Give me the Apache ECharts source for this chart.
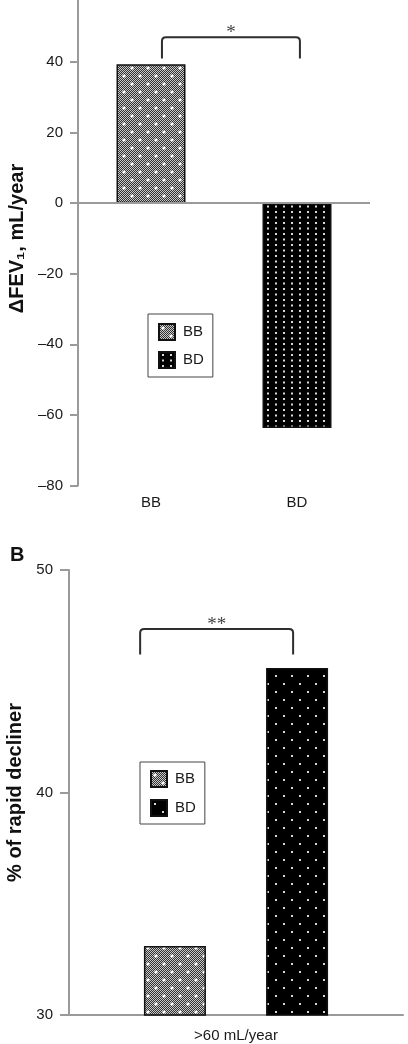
<!DOCTYPE html>
<html><head><meta charset="utf-8">
<script src="https://cdn.jsdelivr.net/npm/echarts@6/dist/echarts.min.js"></script>
<style>html,body{margin:0;padding:0;background:#fff}#c{width:408px;height:1044px}</style>
</head><body><div id="c"></div>
<script>
// ---- data ----
const groupsA = ['BB', 'BD'];
const deltaFEV1 = [39.4, -63.7];
const categoriesB = ['>60 mL/year'];
const rapidBB = [33.1];
const rapidBD = [45.6];
const legendNames = ['BB', 'BD'];
// significance brackets: [label, fromCategory, toCategory, topValue, bottomValue]
const sigA = ['*', 0, 1, 47, 41];
const sigB = ['**', 0, 0, 47.35, 46.2];

// ---- styles ----
const FONT = '"Liberation Sans", Arial, sans-serif';
const AXIS = '#9a9a9a';
const TXT = '#1a1a1a';

function pat(w, h, draw) {
  const c = document.createElement('canvas');
  c.width = w; c.height = h;
  const g = c.getContext('2d');
  draw(g);
  return { image: c, repeat: 'repeat' };
}
function dot(g, x, y, r) { g.beginPath(); g.arc(x, y, r, 0, Math.PI * 2); g.fill(); }
const patBB = pat(16, 16, g => {
  for (let y = 0; y < 16; y++) for (let x = 0; x < 16; x++) {
    g.fillStyle = ((x + y) % 2) ? '#333333' : '#c8c8c8';
    g.fillRect(x, y, 1, 1);
  }
  g.fillStyle = '#ffffff';
  dot(g, 4, 4, 1.6); dot(g, 12, 12, 1.6);
});
const patBDa = pat(8, 11, g => {
  g.fillStyle = '#000'; g.fillRect(0, 0, 8, 11);
  g.fillStyle = '#d8d8d8';
  g.fillRect(3, 2, 2, 2); g.fillRect(3, 7.5, 2, 2);
});
const patBDb = pat(16, 16, g => {
  g.fillStyle = '#000'; g.fillRect(0, 0, 16, 16);
  g.fillStyle = '#d8d8d8';
  g.fillRect(3, 3, 2, 2); g.fillRect(11, 11, 2, 2);
});

function bracket(sig, offL, offR, xi, yi) {
  return {
    type: 'custom', xAxisIndex: xi, yAxisIndex: yi, clip: false, silent: true,
    encode: { x: [0, 1], y: [2, 3] },
    data: [[sig[1], sig[2], sig[3], sig[4]]],
    renderItem: (params, api) => {
      const band = api.size([1, 0])[0];
      const pT = api.coord([api.value(0), api.value(2)]);
      const pR = api.coord([api.value(1), api.value(2)]);
      const pB = api.coord([api.value(0), api.value(3)]);
      const xL = pT[0] + offL * band, xR = pR[0] + offR * band;
      const yT = pT[1], yB = pB[1], r = 4;
      const d = `M${xL} ${yB} L${xL} ${yT + r} Q${xL} ${yT} ${xL + r} ${yT} L${xR - r} ${yT} Q${xR} ${yT} ${xR} ${yT + r} L${xR} ${yB}`;
      return {
        type: 'group', children: [
          { type: 'path', shape: { pathData: d }, style: { stroke: '#2e2e2e', lineWidth: 2, fill: 'none' } },
          { type: 'text', x: (xL + xR) / 2, y: yT - 4, style: { text: sig[0], fill: '#444', font: '19px "Liberation Serif", serif', align: 'center', verticalAlign: 'middle' } }
        ]
      };
    }
  };
}

const legendCommon = {
  orient: 'vertical', itemWidth: 16, itemHeight: 16, icon: 'rect',
  borderColor: '#444', borderWidth: 1, selectedMode: false,
  textStyle: { fontSize: 15, color: TXT, fontFamily: FONT, padding: [0, 0, 0, 3] }
};

const option = {
  animation: false,
  backgroundColor: '#fff',
  title: { text: 'B', left: 10, top: 545, padding: 0, textStyle: { fontSize: 20, fontWeight: 'bold', color: '#111', fontFamily: FONT } },
  legend: [
    Object.assign({}, legendCommon, { left: 148, top: 314, itemGap: 10, padding: [9, 9, 8, 10], data: legendNames }),
    Object.assign({}, legendCommon, { left: 140, top: 762, itemGap: 11, padding: [8, 9, 7, 10], data: legendNames.map(n => n + ' '), formatter: n => n.trim() })
  ],
  grid: [
    { left: 78, right: 38, top: -8.5, bottom: 558.5, outerBoundsMode: 'none' },
    { left: 69, right: 5, top: 570, bottom: 29, outerBoundsMode: 'none' }
  ],
  xAxis: [
    { gridIndex: 0, type: 'category', data: groupsA, axisLine: { show: false, onZero: false }, axisTick: { show: false },
      axisLabel: { margin: 10, fontSize: 15, color: TXT, fontFamily: FONT } },
    { gridIndex: 1, type: 'category', data: categoriesB, axisLine: { show: true, onZero: false, lineStyle: { color: AXIS, width: 2 } }, axisTick: { show: false },
      axisLabel: { margin: 13, fontSize: 15, color: TXT, fontFamily: FONT } }
  ],
  yAxis: [
    { gridIndex: 0, type: 'value', min: -80, max: 60, interval: 20,
      axisLine: { show: true, lineStyle: { color: AXIS, width: 2 } },
      axisTick: { show: true, length: 8, lineStyle: { color: AXIS, width: 2 } },
      splitLine: { show: false },
      axisLabel: { margin: 15, fontSize: 15, color: TXT, fontFamily: FONT, showMaxLabel: false, formatter: v => v < 0 ? '\u2013' + (-v) : String(v) },
      name: 'ΔFEV\u2081, mL/year', nameLocation: 'middle', nameGap: 50,
      nameTextStyle: { fontSize: 20, fontWeight: 'bold', color: '#111', fontFamily: FONT } },
    { gridIndex: 1, type: 'value', min: 30, max: 50, interval: 10,
      axisLine: { show: true, lineStyle: { color: AXIS, width: 2 } },
      axisTick: { show: true, length: 9, lineStyle: { color: AXIS, width: 2 } },
      splitLine: { show: false },
      axisLabel: { margin: 16, fontSize: 15, color: TXT, fontFamily: FONT },
      name: '% of rapid decliner', nameLocation: 'middle', nameGap: 44,
      nameTextStyle: { fontSize: 20, fontWeight: 'bold', color: '#111', fontFamily: FONT } }
  ],
  series: [
    { type: 'bar', name: 'BB', xAxisIndex: 0, yAxisIndex: 0, data: [deltaFEV1[0], '-'], barWidth: 69, barGap: '-100%',
      itemStyle: { color: patBB, borderColor: '#111', borderWidth: 1.5 },
      markLine: { silent: true, symbol: 'none', label: { show: false }, lineStyle: { color: AXIS, width: 2, type: 'solid' }, data: [{ yAxis: 0 }] } },
    { type: 'bar', name: 'BD', xAxisIndex: 0, yAxisIndex: 0, data: ['-', deltaFEV1[1]], barWidth: 69, barGap: '-100%',
      itemStyle: { color: patBDa, borderColor: '#111', borderWidth: 1.5 } },
    { type: 'bar', name: 'BB ', xAxisIndex: 1, yAxisIndex: 1, data: rapidBB, barWidth: 62, barGap: '97%',
      itemStyle: { color: patBB, borderColor: '#111', borderWidth: 1.5 } },
    { type: 'bar', name: 'BD ', xAxisIndex: 1, yAxisIndex: 1, data: rapidBD, barWidth: 62, barGap: '97%',
      itemStyle: { color: patBDb, borderColor: '#111', borderWidth: 1.5 } },
    bracket(sigA, 0.075, 0.02, 0, 0),
    bracket(sigB, -0.287, 0.171, 1, 1)
  ]
};
const chart = echarts.init(document.getElementById('c'), null, { renderer: 'canvas' });
chart.setOption(option);
</script>
</body></html>
